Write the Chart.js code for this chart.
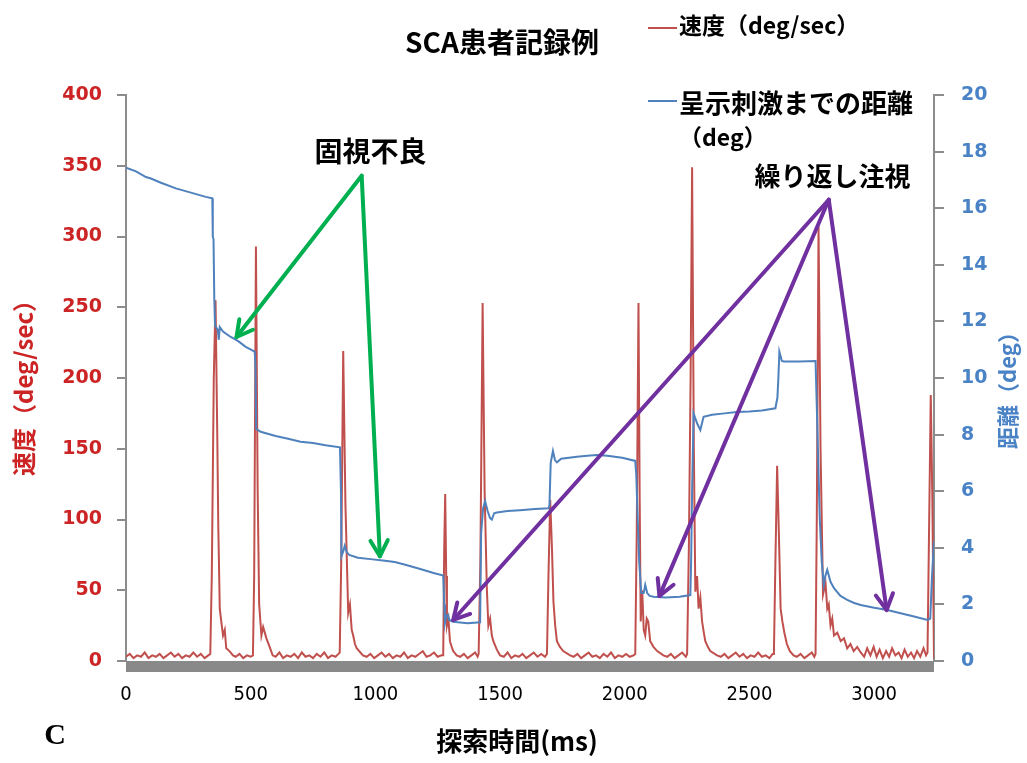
<!DOCTYPE html>
<html lang="ja">
<head>
<meta charset="utf-8">
<title>SCA患者記録例</title>
<script src="https://cdn.jsdelivr.net/npm/chart.js@4.4.1/dist/chart.umd.min.js"></script>
<style>
  html, body { margin: 0; padding: 0; background: #fff; }
  #wrap { width: 1027px; height: 763px; }
</style>
</head>
<body>
<div id="wrap"><canvas id="chart" width="1027" height="763"></canvas></div>
<script>
// --- data (time in ms) ---
const xTicks = [0, 500, 1000, 1500, 2000, 2500, 3000];
const speedTicks = [0, 50, 100, 150, 200, 250, 300, 350, 400];
const distTicks = [0, 2, 4, 6, 8, 10, 12, 14, 16, 18, 20];

// eye velocity (deg/sec)
const speed = [
  [0, 3], [15, 5], [30, 2], [45, 4], [60, 3], [75, 6], [90, 2], [105, 4], [120, 3], [135, 5],
  [150, 2], [165, 4], [180, 6], [195, 3], [210, 5], [225, 2], [240, 4], [255, 3], [270, 6],
  [285, 3], [300, 5], [315, 2], [330, 4],
  [338, 5], [344, 60], [352, 200], [359, 255], [366, 160], [370, 96], [376, 37], [382, 28],
  [389, 18], [396, 22], [402, 9], [415, 7], [429, 4],
  [440, 3], [455, 5], [470, 2], [485, 4], [500, 3],
  [509, 4], [514, 60], [521, 293], [528, 120], [534, 40], [543, 18], [550, 24], [563, 16],
  [576, 10], [588, 4],
  [600, 3], [615, 6], [630, 2], [645, 4], [660, 3], [675, 5], [690, 2], [705, 6], [720, 3],
  [735, 4], [750, 2], [765, 5], [780, 3], [795, 6], [810, 2], [825, 4], [840, 3], [852, 5],
  [857, 6], [863, 70], [871, 219], [880, 110], [891, 34], [898, 40], [905, 22], [911, 18],
  [918, 12], [925, 9], [950, 4],
  [965, 3], [980, 5], [995, 2], [1010, 4], [1025, 6], [1040, 3], [1055, 5], [1070, 2],
  [1085, 4], [1100, 3], [1115, 6], [1130, 2], [1145, 4], [1160, 3], [1175, 5], [1190, 7],
  [1205, 3], [1220, 4], [1235, 6], [1250, 3], [1265, 4],
  [1272, 4], [1276, 80], [1280, 118], [1284, 60], [1287, 25], [1293, 30], [1299, 14],
  [1306, 10], [1312, 7], [1326, 4],
  [1340, 3], [1355, 5], [1370, 2], [1385, 4], [1400, 6], [1410, 3],
  [1414, 5], [1421, 70], [1430, 253], [1438, 120], [1447, 51], [1453, 25], [1460, 30],
  [1467, 18], [1473, 14], [1487, 8], [1500, 4],
  [1515, 3], [1530, 6], [1545, 2], [1560, 4], [1575, 3], [1590, 5], [1605, 2], [1620, 4],
  [1635, 6], [1650, 3], [1665, 5], [1680, 3],
  [1688, 5], [1694, 60], [1701, 114], [1708, 80], [1714, 42], [1721, 25], [1728, 14],
  [1740, 10], [1753, 7], [1781, 4],
  [1795, 3], [1810, 5], [1825, 2], [1840, 4], [1855, 6], [1870, 3], [1885, 4], [1900, 2],
  [1915, 5], [1930, 3], [1945, 6], [1960, 2], [1975, 4], [1990, 3], [2005, 5], [2020, 3],
  [2035, 4],
  [2042, 5], [2048, 90], [2055, 253], [2060, 110], [2064, 28], [2070, 50], [2076, 22],
  [2082, 18], [2088, 30], [2094, 28], [2102, 14], [2115, 10], [2130, 7], [2155, 4],
  [2170, 3], [2185, 5], [2200, 2], [2215, 4], [2230, 6], [2245, 3],
  [2250, 5], [2257, 80], [2264, 200], [2270, 349], [2277, 150], [2283, 49], [2290, 60],
  [2296, 37], [2303, 45], [2310, 28], [2317, 20], [2323, 14], [2333, 10], [2343, 7], [2370, 4],
  [2385, 3], [2400, 5], [2415, 2], [2430, 4], [2445, 6], [2460, 3], [2475, 5], [2490, 2],
  [2505, 4], [2520, 3], [2535, 6], [2550, 3], [2565, 4], [2580, 2], [2593, 5],
  [2598, 5], [2604, 70], [2611, 138], [2618, 90], [2625, 37], [2632, 28], [2640, 20],
  [2650, 12], [2662, 7], [2677, 4],
  [2690, 3], [2705, 5], [2720, 2], [2735, 4], [2750, 6], [2760, 3],
  [2765, 5], [2770, 100], [2777, 307], [2785, 150], [2795, 47], [2805, 55], [2812, 37],
  [2818, 40], [2825, 25], [2832, 30], [2839, 18], [2852, 20], [2866, 14], [2879, 16],
  [2892, 9], [2905, 12], [2918, 7], [2932, 10], [2946, 6],
  [2960, 3], [2972, 9], [2985, 4], [2998, 10], [3010, 3], [3022, 8], [3035, 2], [3048, 7],
  [3060, 3], [3072, 9], [3085, 4], [3098, 6], [3110, 2], [3122, 8], [3135, 3], [3148, 6],
  [3160, 2], [3172, 7], [3185, 3], [3198, 9], [3208, 4],
  [3214, 6], [3220, 90], [3227, 188], [3233, 120], [3240, 2]
];

// distance to the presented stimulus (deg)
const distance = [
  [0, 17.43], [40, 17.3], [80, 17.1], [100, 17.05], [140, 16.9], [200, 16.7], [260, 16.55],
  [320, 16.4], [346, 16.35],
  [348, 15.0], [351, 14.9], [354, 12.8], [357, 11.85], [368, 11.7], [372, 11.35], [376, 11.8],
  [389, 11.64], [420, 11.45], [450, 11.3], [480, 11.1], [516, 10.93],
  [519, 10.5], [522, 8.2], [540, 8.1], [600, 7.95], [650, 7.85], [700, 7.75], [750, 7.7],
  [800, 7.62], [858, 7.55],
  [862, 6.0], [864, 3.7], [872, 3.9], [877, 4.07], [885, 3.85], [895, 3.75], [930, 3.65],
  [980, 3.6], [1030, 3.55], [1078, 3.5], [1120, 3.4], [1180, 3.25], [1230, 3.12], [1272, 3.02],
  [1276, 2.0], [1279, 1.34], [1285, 1.6], [1291, 1.63], [1296, 1.45], [1311, 1.39],
  [1340, 1.36], [1370, 1.33], [1420, 1.37],
  [1424, 4.5], [1432, 5.4], [1440, 5.65], [1450, 5.3], [1460, 5.05], [1467, 5.0],
  [1476, 5.22], [1487, 5.25], [1530, 5.3], [1580, 5.33], [1640, 5.37], [1694, 5.4],
  [1698, 5.5], [1703, 7.0], [1712, 7.42], [1720, 7.1], [1728, 7.02], [1745, 7.15],
  [1808, 7.22], [1850, 7.25], [1888, 7.28], [1930, 7.25], [1990, 7.18], [2042, 7.07],
  [2046, 6.6], [2052, 5.0], [2058, 3.5], [2066, 2.4], [2076, 2.4], [2082, 2.69], [2090, 2.4],
  [2100, 2.3], [2116, 2.27], [2163, 2.24], [2220, 2.27], [2263, 2.33],
  [2266, 3.5], [2270, 6.0], [2276, 8.75], [2290, 8.4], [2303, 8.16], [2316, 8.63],
  [2350, 8.7], [2400, 8.75], [2450, 8.8], [2500, 8.82], [2550, 8.85], [2604, 8.93],
  [2612, 9.3], [2616, 10.0], [2620, 10.93], [2630, 10.6], [2638, 10.58], [2700, 10.58],
  [2765, 10.6],
  [2770, 9.0], [2776, 7.0], [2782, 5.0], [2790, 3.5], [2798, 2.69], [2804, 3.0], [2812, 3.22],
  [2825, 2.8], [2839, 2.57], [2865, 2.3], [2892, 2.16], [2920, 2.05], [2946, 1.98],
  [3000, 1.88], [3053, 1.8], [3106, 1.69], [3160, 1.57], [3214, 1.45],
  [3225, 1.5], [3232, 3.0], [3240, 4.22]
];

// annotations, in data units (ms, deg/sec on the left axis)
const noteText = ['固視不良', '繰り返し注視'];
const noteAt = [[980, 360], [2833, 343]];
const fixFrom = [945, 343];
const fixTo = [[443, 229], [1018, 74]];
const refixFrom = [2818, 326];
const refixTo = [[1312, 29], [2139, 46], [3050, 36]];

const RED = '#c0504d';
const BLUE = '#4f81bd';
const RED_TXT = '#cc2424';
const BLUE_TXT = '#4a82c6';
const GREEN = '#00b050';
const PURPLE = '#7030a0';
const AXIS = '#8c8c8c';
const JP = '"Noto Sans CJK JP", "Noto Sans", sans-serif';
const NUM = '"DejaVu Sans", sans-serif';
const NARROW = '"Liberation Sans Narrow", "DejaVu Sans Condensed", sans-serif';

function drawArrow(ctx, x0, y0, x1, y1, color) {
    const ang = Math.atan2(y1 - y0, x1 - x0);
    const len = 18;
    ctx.save();
    ctx.strokeStyle = color;
    ctx.lineWidth = 4;
    ctx.lineCap = 'round';
    ctx.lineJoin = 'round';
    ctx.beginPath();
    ctx.moveTo(x0, y0);
    ctx.lineTo(x1, y1);
    ctx.stroke();
    ctx.beginPath();
    ctx.moveTo(x1 - len * Math.cos(ang - 0.5), y1 - len * Math.sin(ang - 0.5));
    ctx.lineTo(x1, y1);
    ctx.lineTo(x1 - len * Math.cos(ang + 0.5), y1 - len * Math.sin(ang + 0.5));
    ctx.stroke();
    ctx.restore();
}

function text(ctx, str, x, y, font, color, align, rot) {
    ctx.save();
    ctx.font = font;
    ctx.fillStyle = color;
    ctx.textAlign = align || 'center';
    ctx.textBaseline = 'middle';
    ctx.translate(x, y);
    if (rot) ctx.rotate(rot);
    ctx.fillText(str, 0, 0);
    ctx.restore();
}

const decor = {
    id: 'decor',
    beforeDatasetsDraw(chart) {
        const { ctx, chartArea: a } = chart;
        ctx.save();
        ctx.fillStyle = '#898989';
        ctx.fillRect(a.left, a.bottom, a.right - a.left, 11);
        ctx.restore();
    },
    afterDatasetsDraw(chart) {
        const { ctx, scales } = chart;
        const px = p => [scales.x.getPixelForValue(p[0]), scales.y.getPixelForValue(p[1])];

        const f = px(fixFrom);
        fixTo.forEach(t => { const q = px(t); drawArrow(ctx, f[0], f[1], q[0], q[1], GREEN); });
        const r = px(refixFrom);
        refixTo.forEach(t => { const q = px(t); drawArrow(ctx, r[0], r[1], q[0], q[1], PURPLE); });

        noteText.forEach((s, i) => {
            const p = px(noteAt[i]);
            text(ctx, s, p[0], p[1], 'bold ' + (i === 0 ? 28 : 26) + 'px ' + JP, '#000');
        });
    },
    afterDraw(chart) {
        const { ctx } = chart;
        text(ctx, 'SCA患者記録例', 502, 42, 'bold 28px ' + JP, '#000');

        // legend
        ctx.save();
        ctx.lineWidth = 2;
        ctx.strokeStyle = RED;
        ctx.beginPath(); ctx.moveTo(648, 28); ctx.lineTo(677, 28); ctx.stroke();
        ctx.strokeStyle = BLUE;
        ctx.beginPath(); ctx.moveTo(648, 101); ctx.lineTo(677, 101); ctx.stroke();
        ctx.restore();
        text(ctx, '速度（deg/sec）', 679, 25, 'bold 23px ' + JP, '#000', 'left');
        text(ctx, '呈示刺激までの距離', 679, 103, 'bold 26px ' + JP, '#000', 'left');
        text(ctx, '（deg）', 679, 137, 'bold 23px ' + JP, '#000', 'left');

        // axis titles
        text(ctx, '速度（deg/sec）', 24, 382, 'bold 24px ' + JP, RED_TXT, 'center', -Math.PI / 2);
        text(ctx, '距離（deg）', 1008, 385, 'bold 22px ' + JP, BLUE_TXT, 'center', -Math.PI / 2);
        text(ctx, '探索時間(ms)', 517, 741, 'bold 26px ' + JP, '#000');
        text(ctx, 'C', 55, 736, 'bold 30px "Liberation Serif", "DejaVu Serif", serif', '#000');
    }
};

new Chart(document.getElementById('chart'), {
    type: 'line',
    data: {
        datasets: [
            {
                label: '呈示刺激までの距離（deg）',
                data: distance.map(p => ({ x: p[0], y: p[1] })),
                yAxisID: 'y2',
                borderColor: BLUE,
                borderWidth: 2,
                pointRadius: 0,
                tension: 0,
                order: 0
            },
            {
                label: '速度（deg/sec）',
                data: speed.map(p => ({ x: p[0], y: p[1] })),
                yAxisID: 'y',
                borderColor: RED,
                borderWidth: 2,
                pointRadius: 0,
                tension: 0,
                order: 1
            }
        ]
    },
    options: {
        responsive: false,
        animation: false,
        layout: { padding: { top: 95, left: 0, right: 0, bottom: 0 } },
        plugins: { legend: { display: false }, tooltip: { enabled: false } },
        scales: {
            x: {
                type: 'linear',
                min: 0,
                max: 3240,
                afterBuildTicks: s => { s.ticks = xTicks.map(v => ({ value: v })); },
                afterFit: s => { s.height = 102; },
                grid: { display: false, drawTicks: false },
                border: { display: false },
                ticks: {
                    color: '#000', font: { family: NARROW, size: 20 }, padding: 22,
                    maxRotation: 0, autoSkip: false, callback: v => String(v)
                }
            },
            y: {
                position: 'left',
                min: 0,
                max: 400,
                afterBuildTicks: s => { s.ticks = speedTicks.map(v => ({ value: v })); },
                afterFit: s => { s.width = 126; },
                grid: { drawOnChartArea: false, color: AXIS, lineWidth: 2, tickLength: 9 },
                border: { color: AXIS, width: 2 },
                ticks: { color: RED_TXT, font: { family: NUM, size: 19, weight: 'bold' }, padding: 15 }
            },
            y2: {
                position: 'right',
                min: 0,
                max: 20,
                afterBuildTicks: s => { s.ticks = distTicks.map(v => ({ value: v })); },
                afterFit: s => { s.width = 93; },
                grid: { drawOnChartArea: false, color: AXIS, lineWidth: 2, tickLength: 10 },
                border: { color: AXIS, width: 2 },
                ticks: { color: BLUE_TXT, font: { family: NUM, size: 19, weight: 'bold' }, padding: 17 }
            }
        }
    },
    plugins: [decor]
});
</script>
</body>
</html>
